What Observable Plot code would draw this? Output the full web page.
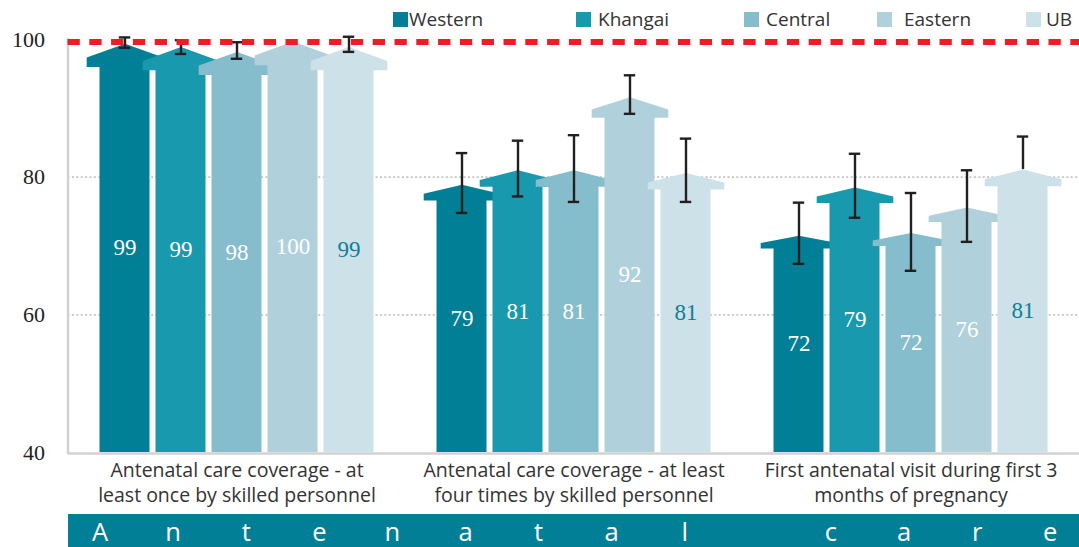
<!DOCTYPE html>
<html>
<head>
<meta charset="utf-8">
<script src="https://cdn.jsdelivr.net/npm/d3@7"></script>
<script src="https://cdn.jsdelivr.net/npm/@observablehq/plot@0.6"></script>
<style>
  body { margin: 0; background: #fff; }
  #wrap { position: relative; width: 1079px; height: 547px; overflow: hidden; font-family: "Open Sans", sans-serif; }
  .layer { position: absolute; left: 0; top: 0; }
  .layer svg { display: block; }
  .layer text.serif, .layer .serif text { font-family: "Liberation Serif", "DejaVu Serif", "Times New Roman", serif !important; }
  .sw { position: absolute; top: 11.7px; width: 15px; height: 15px; }
  .lt { position: absolute; top: 10.2px; font-size: 19px; line-height: 19px; color: #333; white-space: nowrap; }
  #band { position: absolute; left: 67.5px; top: 513.5px; width: 1011.5px; height: 33.5px; background: #007f96; overflow: hidden; }
  #letters { position: absolute; left: -4px; top: 5px; display: grid; grid-template-columns: repeat(14, 73.1px);
             color: #fff; font-size: 25.6px; line-height: 25.6px; text-align: center; }
</style>
</head>
<body>
<div id="wrap">
  <div id="bg" class="layer"></div>
  <div id="chart" class="layer"></div>
  <div id="fg" class="layer"></div>
  <div id="legend"></div>
  <div id="band"><div id="letters"></div></div>
</div>
<script>
// ---- data ----
const groups = [
  "Antenatal care coverage - at\nleast once by skilled personnel",
  "Antenatal care coverage - at least\nfour times by skilled personnel",
  "First antenatal visit during first 3\nmonths of pregnancy"
];
const regions = ["Western", "Khangai", "Central", "Eastern", "UB"];
const values = [
  [99.4, 98.9, 98.2, 99.7, 98.9],
  [78.9, 81.0, 81.0, 91.6, 80.6],
  [71.5, 78.5, 71.9, 75.6, 81.1]
];
const valueLabels = [
  [99, 99, 98, 100, 99],
  [79, 81, 81, 92, 81],
  [72, 79, 72, 76, 81]
];
const ciLow = [
  [98.8, 97.9, 97.2, null, 98.2],
  [74.8, 77.2, 76.4, 89.2, 76.4],
  [67.4, 74.1, 66.4, 70.6, null]
];
const ciHigh = [
  [100.3, 99.9, 99.6, null, 100.4],
  [83.5, 85.3, 86.1, 94.8, 85.6],
  [76.3, 83.4, 77.7, 81.0, 85.9]
];
const yTicks = [40, 60, 80, 100];
const gridTicks = [60, 80];
const target = 100;
const bandText = "Antenatal care";

// ---- styles ----
const colors = ["#007f96", "#1899ae", "#86bdcc", "#b0d1dc", "#cde1e8"];
const legendSwatchX = [393, 576, 744, 877, 1026];
const legendTextX = [409, 598, 766, 904, 1046];
const serif = "Liberation Serif, DejaVu Serif, Times New Roman, serif";

const rows = [];
groups.forEach((g, gi) => regions.forEach((r, ri) => rows.push({
  group: g, region: r, value: values[gi][ri], label: valueLabels[gi][ri],
  lo: ciLow[gi][ri], hi: ciHigh[gi][ri]
})));

const yMin = 40;
const W = 1079, H = 513, mTop = 39, mBottom = 61, mLeft = 67.5, mRight = 0;
const pxPerUnit = (H - mTop - mBottom) / (100 - yMin);
const common = {
  width: W, height: H, marginLeft: mLeft, marginRight: mRight, marginTop: mTop, marginBottom: mBottom,
  style: {background: "transparent"},
  y: {domain: [yMin, 100], axis: null}
};

// background layer: grid, axis lines, y tick labels
const bg = Plot.plot({
  ...common,
  marks: [
    Plot.ruleY(gridTicks, {stroke: "#c4c4c4", strokeWidth: 1.6, strokeDasharray: "2,2.4"}),
    Plot.ruleY([yMin], {stroke: "#d2d2d2", strokeWidth: 2.5, dy: 1}),
    Plot.frame({anchor: "left", stroke: "#d2d2d2", strokeWidth: 2.5}),
    Plot.text(yTicks, {y: d => d, text: d => String(d), frameAnchor: "left", dx: -23, textAnchor: "end",
      fontFamily: serif, fontSize: 22, fill: "#222", className: "serif"})
  ]
});
document.getElementById("bg").appendChild(bg);

// main layer: arrows, labels, error bars
const headFrac = 0.055;
const headBase = d => d.value - headFrac * (d.value - yMin);
const headHalf = 38.3;
const headSymbol = {
  draw(ctx, size) {
    const h = Math.sqrt(size / Math.PI);
    ctx.moveTo(-headHalf, 1);
    ctx.lineTo(-headHalf, -0.38 * h);
    ctx.lineTo(0, -h);
    ctx.lineTo(headHalf, -0.38 * h);
    ctx.lineTo(headHalf, 1);
    ctx.closePath();
  }
};

const marks = [];
regions.forEach((r, ri) => {
  const sub = rows.filter(d => d.region === r);
  marks.push(Plot.barY(sub, {fx: "group", x: "region", y1: yMin, y2: headBase, fill: colors[ri]}));
  marks.push(Plot.dot(sub, {fx: "group", x: "region", y: headBase, r: d => headFrac * (d.value - yMin),
    symbol: headSymbol, fill: colors[ri], stroke: "none"}));
});

const lblStyle = {fx: "group", x: "region", y: d => (d.value + yMin) / 2, text: d => String(d.label),
  fontFamily: serif, fontSize: 23, className: "serif"};
marks.push(Plot.text(rows.filter(d => d.region !== "UB"), {...lblStyle, fill: "#fff"}));
marks.push(Plot.text(rows.filter(d => d.region === "UB"), {...lblStyle, fill: "#0e7f96"}));

const eb = rows.filter(d => d.hi != null);
const ebStyle = {fx: "group", x: "region", stroke: "#231f20", strokeWidth: 2.4};
marks.push(Plot.ruleX(eb, {...ebStyle, y1: d => d.lo ?? d.value, y2: "hi"}));
marks.push(Plot.tickY(eb, {...ebStyle, y: "hi", insetLeft: 19.3, insetRight: 19.3}));
marks.push(Plot.tickY(eb.filter(d => d.lo != null), {...ebStyle, y: "lo", insetLeft: 19.3, insetRight: 19.3}));

marks.push(Plot.text(groups, {fx: d => d, text: d => d, frameAnchor: "bottom", lineAnchor: "top", dy: 7,
  fontSize: 19.5, lineHeight: 1.28, fill: "#333", fontFamily: "Open Sans"}));

const chart = Plot.plot({
  ...common,
  fx: {domain: groups, axis: null, paddingInner: 0.184, paddingOuter: 0.0914, align: 0.5, label: null},
  x: {domain: regions, axis: null, paddingInner: 0.112, paddingOuter: 0},
  r: {type: "linear", domain: [0, 100 - yMin], range: [0, (100 - yMin) * pxPerUnit]},
  marks
});
document.getElementById("chart").appendChild(chart);

// foreground layer: target line
const fg = Plot.plot({
  ...common,
  marks: [
    Plot.ruleY([target], {stroke: "#ee1c25", strokeWidth: 6, strokeDasharray: "12.3,9.5", dy: 2.5})
  ]
});
document.getElementById("fg").appendChild(fg);

// legend
const leg = document.getElementById("legend");
regions.forEach((r, i) => {
  const s = document.createElement("span");
  s.className = "sw"; s.style.left = legendSwatchX[i] + "px"; s.style.background = colors[i];
  const t = document.createElement("span");
  t.className = "lt"; t.style.left = legendTextX[i] + "px"; t.textContent = r;
  leg.appendChild(s); leg.appendChild(t);
});

// band letters
const letters = document.getElementById("letters");
for (const ch of bandText) {
  const s = document.createElement("span");
  s.textContent = ch === " " ? "\u00a0" : ch;
  letters.appendChild(s);
}
</script>
</body>
</html>
